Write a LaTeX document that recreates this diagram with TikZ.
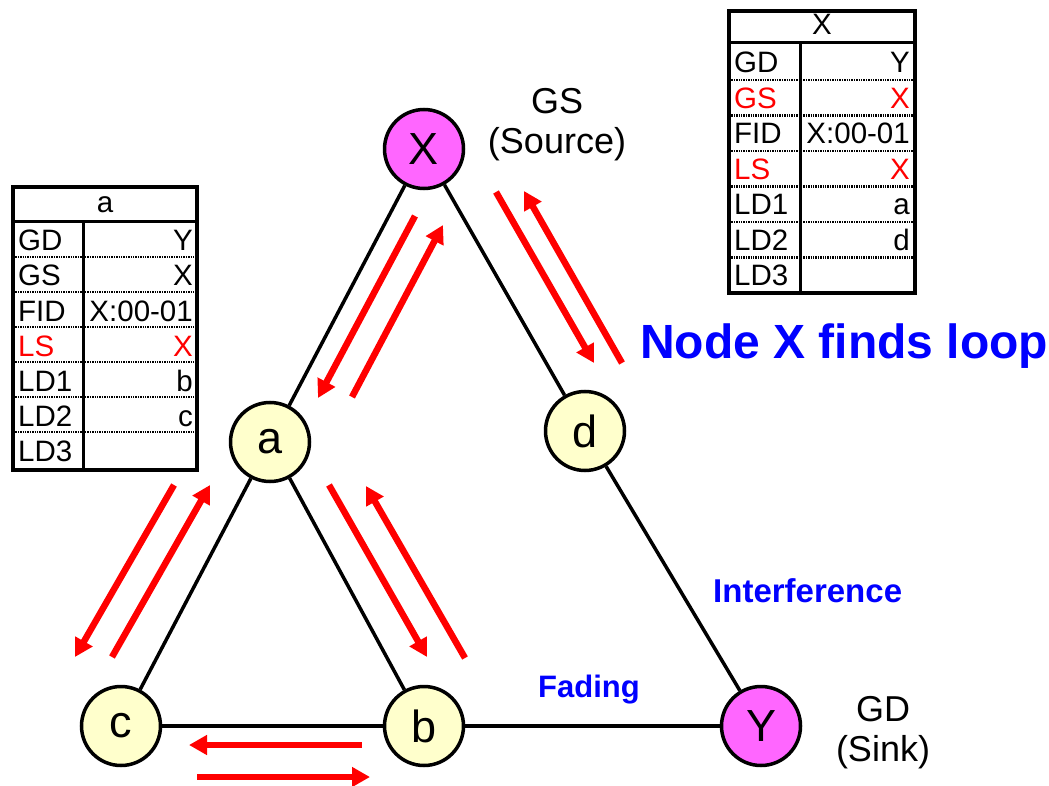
\documentclass[tikz,border=0pt]{standalone}
\usepackage{fontspec}
\setmainfont{Liberation Sans}
\usetikzlibrary{arrows.meta}
\definecolor{nodemag}{HTML}{FF66FF}
\definecolor{nodeyel}{HTML}{FFFFCC}
\definecolor{arrred}{HTML}{FF0000}
\definecolor{txtblue}{HTML}{0000FF}
\begin{document}
\begin{tikzpicture}[x=1pt,y=-1pt,
  netnode/.style={circle,draw=black,line width=3.5pt,minimum size=79pt,inner sep=0pt,font=\fontsize{45}{45}\selectfont},
  gnode/.style={netnode,fill=nodemag},
  lnode/.style={netnode,fill=nodeyel},
  link/.style={draw=black,line width=3.5pt},
  flow/.style={draw=arrred,line width=6.5pt,-{Triangle[length=18pt,width=19pt]}},
  tabtxt/.style={inner sep=0pt,font=\fontsize{29.5}{29.5}\selectfont},
  tabouter/.style={draw=black,line width=4pt},
  tabline/.style={draw=black,line width=3pt},
  tabdot/.style={draw=black,line width=2.6pt,dash pattern=on 1.4pt off 1pt},
  caption/.style={inner sep=0pt,font=\fontsize{36}{36}\selectfont},
  bluelabel/.style={inner sep=0pt,text=txtblue,font=\bfseries\fontsize{31}{31}\selectfont}]
\useasboundingbox[fill=white] (0,0) rectangle (1049,786);

% ---- network nodes
\node[gnode] (X) at (424,149) {X};
\node[lnode] (a) at (270,442) {a};
\node[lnode] (d) at (585,431) {d};
\node[lnode] (c) at (121,726) {c};
\node[lnode] (b) at (424,726) {b};
\node[gnode] (Y) at (761,726) {Y};

% ---- links
\draw[link] (X) -- (a);
\draw[link] (X) -- (d);
\draw[link] (a) -- (c);
\draw[link] (a) -- (b);
\draw[link] (c) -- (b);
\draw[link] (b) -- (Y);
\draw[link] (d) -- (Y);

% ---- red flow arrows
\coordinate (xa1s) at (415,216); \coordinate (xa1e) at (318,398);
\coordinate (xa2s) at (352,397); \coordinate (xa2e) at (443,225);
\coordinate (xd1s) at (496,192); \coordinate (xd1e) at (594,363);
\coordinate (xd2s) at (622,363); \coordinate (xd2e) at (524,191);
\coordinate (ac1s) at (174,485); \coordinate (ac1e) at (75,657);
\coordinate (ac2s) at (112,657); \coordinate (ac2e) at (210,485);
\coordinate (ab1s) at (329,485); \coordinate (ab1e) at (427,657);
\coordinate (ab2s) at (465,658); \coordinate (ab2e) at (366,486);
\coordinate (cb1s) at (362,745); \coordinate (cb1e) at (189,745);
\coordinate (cb2s) at (197,777); \coordinate (cb2e) at (370,777);
\foreach \p in {xa1,xa2,xd1,xd2,ac1,ac2,ab1,ab2,cb1,cb2}
  \draw[flow] (\p s) -- (\p e);

% ---- captions
\node[caption,anchor=base] (gs1) at (557,114) {GS};
\node[caption,anchor=base] (gs2) at (557,154) {(Source)};
\node[caption,anchor=base] (gd1) at (883,721) {GD};
\node[caption,anchor=base] (gd2) at (883,761) {(Sink)};
\node[inner sep=0pt,anchor=base west,text=txtblue,font=\bfseries\fontsize{48}{48}\selectfont] (loop) at (640,358) {Node X finds loop};
\node[bluelabel,anchor=base west,font=\bfseries\fontsize{33}{33}\selectfont] (interf) at (713,602) {Interference};
\node[bluelabel,anchor=base west] (fading) at (538,697) {Fading};

% ---- table of node a
\fill[white] (13,187) rectangle (197,470);
\foreach \yy in {257,292,327,362,397,432}
  \draw[tabdot] (13,\yy) -- (197,\yy);
\draw[tabline] (13,222) -- (197,222);
\draw[tabline] (83,222) -- (83,470);
\draw[tabouter] (13,187) rectangle (197,470);
\node[tabtxt,anchor=base] (ta-h) at (105,213) {a};
\foreach \lab/\val/\col [count=\i from 0] in {GD/Y/black,GS/X/black,FID/X:00-01/black,LS/X/arrred,LD1/b/black,LD2/c/black}{
  \node[tabtxt,anchor=base west,text=\col] (ta-l\i) at (18,{251+35*\i}) {\lab};
  \node[tabtxt,anchor=base east,text=\col] (ta-v\i) at (193,{251+35*\i}) {\val};
}
\node[tabtxt,anchor=base west] (ta-l6) at (18,461) {LD3};

% ---- table of node X
\fill[white] (729,11) rectangle (915,293);
\foreach \yy in {80,115.5,151,186.5,222,257.5}
  \draw[tabdot] (729,\yy) -- (915,\yy);
\draw[tabline] (729,43) -- (915,43);
\draw[tabline] (800,43) -- (800,293);
\draw[tabouter] (729,11) rectangle (915,293);
\node[tabtxt,anchor=base] (tx-h) at (822,35) {X};
\foreach \lab/\val/\col [count=\i from 0] in {GD/Y/black,GS/X/arrred,FID/X:00-01/black,LS/X/arrred,LD1/a/black,LD2/d/black}{
  \node[tabtxt,anchor=base west,text=\col] (tx-l\i) at (734,{73+35.5*\i}) {\lab};
  \node[tabtxt,anchor=base east,text=\col] (tx-v\i) at (910,{73+35.5*\i}) {\val};
}
\node[tabtxt,anchor=base west] (tx-l6) at (734,286) {LD3};
\end{tikzpicture}
\end{document}
